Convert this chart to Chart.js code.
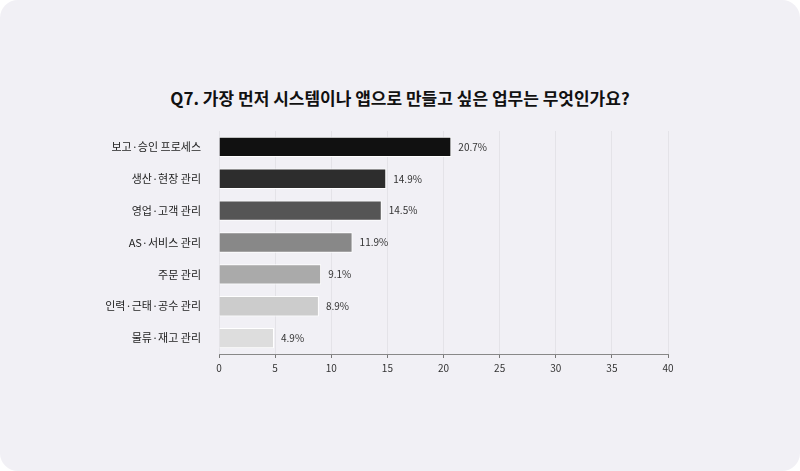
<!DOCTYPE html>
<html>
<head>
<meta charset="utf-8">
<script src="https://cdn.jsdelivr.net/npm/chart.js@4"></script>
<style>
  html, body { margin: 0; padding: 0; background: #fff; }
  .card { position: absolute; left: 0; top: 0; width: 800px; height: 471px; background: #f1f0f5; border-radius: 18px; }
  canvas { position: absolute; left: 0; top: 0; }
  .title { position: absolute; left: 0; top: 86px; width: 800px; text-align: center; font: bold 17px 'Noto Sans CJK KR', sans-serif; color: #111; line-height: 24px; }
</style>
</head>
<body>
<div class="card"><div class="title" id="t"></div><canvas id="c" width="800" height="471"></canvas></div>
<script>
// 데이터
const CATEGORIES = ['보고·승인 프로세스', '생산·현장 관리', '영업·고객 관리', 'AS·서비스 관리', '주문 관리', '인력·근태·공수 관리', '물류·재고 관리'];
const VALUES     = [20.7, 14.9, 14.5, 11.9, 9.1, 8.9, 4.9];
const COLORS     = ['#111111', '#2d2d2d', '#555555', '#888888', '#aaaaaa', '#cccccc', '#dddddd'];
const TITLE      = 'Q7. 가장 먼저 시스템이나 앱으로 만들고 싶은 업무는 무엇인가요?';

const FONT = "'Noto Sans CJK KR', 'Noto Sans', sans-serif";
document.getElementById('t').textContent = TITLE;

// 막대 끝 라벨
const valueLabels = {
  id: 'valueLabels',
  afterDatasetsDraw(chart) {
    const ctx = chart.ctx;
    const meta = chart.getDatasetMeta(0);
    ctx.save();
    ctx.font = '10px ' + FONT;
    ctx.fillStyle = '#333';
    ctx.textBaseline = 'middle';
    meta.data.forEach((bar, i) => {
      ctx.fillText(VALUES[i].toFixed(1) + '%', bar.x + 7, bar.y);
    });
    ctx.restore();
  }
};

new Chart(document.getElementById('c'), {
  type: 'bar',
  data: {
    labels: CATEGORIES,
    datasets: [{ data: VALUES, backgroundColor: COLORS, borderColor: '#ffffff', borderWidth: 1, barPercentage: 0.8, categoryPercentage: 0.8 }]
  },
  options: {
    responsive: false,
    animation: false,
    indexAxis: 'y',
    layout: { padding: { left: 0, right: 132, bottom: 93, top: 131 } },
    scales: {
      x: {
        min: 0, max: 40,
        ticks: { stepSize: 5, color: '#333', font: { size: 10, family: FONT }, padding: 4 },
        grid: { color: 'rgba(0,0,0,0.05)', drawTicks: true, tickLength: 4, tickColor: '#777' },
        border: { color: '#888', width: 1 }
      },
      y: {
        ticks: { color: '#222', font: { size: 11, family: FONT }, padding: 10 },
        grid: { display: false },
        border: { display: false },
        afterFit: s => { s.width = 219; }
      }
    },
    plugins: {
      legend: { display: false },
      tooltip: { enabled: false }
    }
  },
  plugins: [valueLabels]
});
</script>
</body>
</html>
